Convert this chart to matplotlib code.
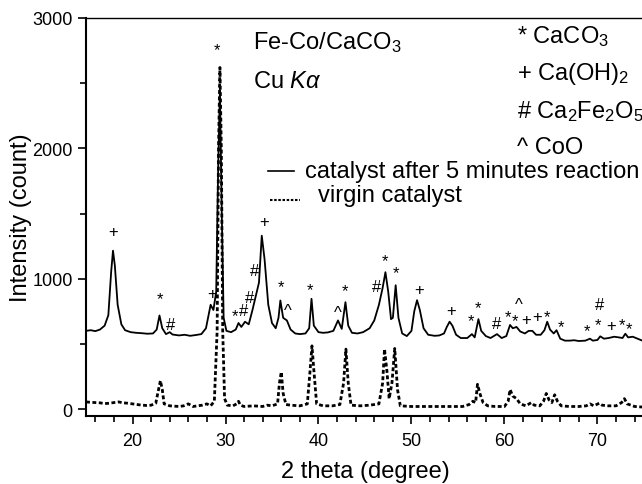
import numpy as np
import matplotlib
matplotlib.use('Agg')
import matplotlib.pyplot as plt
from matplotlib.ticker import MultipleLocator

plt.rcParams['font.family'] = ['Liberation Sans', 'DejaVu Sans']
plt.rcParams['mathtext.fontset'] = 'custom'
plt.rcParams['mathtext.rm'] = 'Liberation Sans'
plt.rcParams['mathtext.it'] = 'Liberation Sans:italic'

# catalyst after 5 minutes reaction (2 theta, counts)
tt_cat = [15.0, 15.5, 16.0, 16.5, 17.0, 17.4, 17.7, 17.9, 18.1, 18.4, 18.8, 19.2, 19.8, 20.4,
          21.0, 21.6, 22.2, 22.6, 22.9, 23.2, 23.6, 24.0, 24.3, 25.0, 25.6, 26.2, 26.8, 27.4,
          27.9, 28.4, 28.7, 29.0, 29.2, 29.4, 29.6, 29.8, 30.1, 30.6, 31.1, 31.4, 31.7, 32.1,
          32.5, 32.9, 33.2, 33.6, 33.9, 34.2, 34.6, 35.0, 35.4, 35.7, 35.9, 36.2, 36.6, 37.0,
          37.5, 38.0, 38.6, 39.0, 39.25, 39.5, 40.0, 40.5, 41.0, 41.6, 42.1, 42.5, 42.9, 43.2,
          43.6, 44.2, 44.8, 45.5, 46.0, 46.5, 46.9, 47.2, 47.5, 47.8, 48.0, 48.3, 48.6, 49.0,
          49.5, 50.0, 50.3, 50.6, 50.9, 51.3, 51.8, 52.5, 53.0, 53.5, 53.8, 54.1, 54.4, 54.8,
          55.3, 56.0, 56.5, 56.8, 57.2, 57.5, 58.0, 58.5, 59.2, 59.7, 60.2, 60.6, 60.9, 61.3,
          61.7, 62.2, 62.6, 63.0, 63.4, 63.9, 64.3, 64.6, 64.9, 65.3, 65.6, 66.0, 66.5, 67.0,
          67.5, 68.0, 68.7, 69.2, 69.5, 70.0, 70.3, 70.7, 71.2, 71.8, 72.3, 72.7, 73.0, 73.3,
          73.8, 74.3, 75.0]
i_cat = [600, 605, 598, 610, 640, 720, 1050, 1215, 1100, 800, 650, 605, 590, 585,
         582, 578, 580, 610, 718, 620, 575, 590, 572, 565, 570, 562, 568, 575,
         620, 800, 760, 900, 1800, 2450, 1500, 700, 600, 590, 610, 660, 630, 670,
         650, 760, 850, 970, 1330, 1150, 800, 660, 620, 700, 833, 700, 680, 610,
         580, 575, 580, 620, 846, 640, 590, 585, 588, 600, 680, 615, 820, 640,
         585, 580, 590, 620, 680, 800, 930, 1050, 900, 690, 700, 950, 700, 580,
         560, 600, 750, 835, 760, 620, 570, 562, 565, 580, 630, 670, 640, 570,
         545, 545, 575, 550, 690, 600, 560, 545, 575, 545, 560, 645, 620, 630,
         595, 580, 600, 600, 570, 570, 605, 670, 610, 580, 605, 540, 525, 525,
         528, 522, 525, 540, 525, 530, 558, 540, 545, 555, 550, 545, 578, 550,
         555, 540, 520]

# virgin catalyst
tt_vir = [15.0, 15.5, 16.0, 16.5, 17.0, 17.5, 18.0, 18.5, 19.0, 19.5, 20.0, 20.5, 21.0, 21.5,
          22.0, 22.5, 22.8, 23.0, 23.2, 23.4, 24.0, 25.0, 25.5, 26.0, 26.5, 27.0, 27.5, 28.0,
          28.4, 28.8, 29.1, 29.25, 29.4, 29.55, 29.7, 29.9, 30.2, 30.8, 31.2, 31.4, 31.6, 32.0,
          33.0, 34.0, 34.5, 35.0, 35.6, 35.8, 36.0, 36.2, 36.5, 37.0, 38.0, 38.8, 39.1, 39.3,
          39.5, 39.8, 40.5, 41.5, 42.3, 42.7, 42.95, 43.2, 43.5, 44.5, 45.5, 46.5, 46.9, 47.1,
          47.35, 47.6, 47.9, 48.2, 48.5, 48.8, 50.0, 52.0, 54.0, 55.5, 56.2, 56.6, 56.9, 57.1,
          57.4, 57.7, 58.2, 59.0, 60.0, 60.4, 60.6, 60.9, 61.3, 61.7, 62.3, 62.9, 63.2, 63.8,
          64.2, 64.5, 64.8, 65.1, 65.4, 65.7, 66.1, 67.0, 68.0, 68.8, 69.2, 69.6, 70.2, 70.5,
          71.2, 72.0, 72.6, 72.9, 73.2, 74.0, 75.0]
i_vir = [55, 52, 50, 48, 42, 45, 50, 55, 48, 45, 40, 35, 30, 28,
         30, 45, 150, 218, 150, 40, 25, 20, 25, 40, 20, 25, 30, 40,
         25, 60, 600, 2000, 2620, 2000, 600, 80, 30, 25, 40, 60, 30, 20,
         25, 20, 30, 25, 40, 200, 285, 120, 35, 30, 25, 40, 300, 485,
         300, 40, 25, 25, 35, 200, 460, 200, 30, 25, 30, 40, 200, 460,
         300, 80, 200, 465, 150, 25, 20, 20, 20, 20, 35, 60, 50, 190,
         110, 50, 25, 20, 20, 60, 150, 100, 80, 40, 25, 50, 30, 25,
         60, 120, 70, 50, 110, 60, 25, 20, 20, 25, 40, 25, 45, 30,
         25, 25, 50, 80, 40, 20, 15]

# phase markers above the catalyst pattern
mark_sym = ['+', '*', '#', '+', '*', '*', '#', '#', '#', '+', '*', '^', '*', '^', '*',
            '#', '*', '*', '+', '+', '*', '*', '#', '*', '*', '^', '+', '+', '*', '*',
            '*', '#', '*', '+', '*', '*']
mark_x = [17.9, 22.9, 24.1, 28.6, 29.1, 31.0, 31.9, 32.6, 33.1, 34.1, 36.0, 36.7, 39.1, 42.1, 42.9,
          46.2, 47.2, 48.3, 50.8, 54.3, 56.4, 57.1, 59.2, 60.4, 61.1, 61.5, 62.35, 63.5, 64.6, 66.1,
          68.9, 70.2, 70.1, 71.5, 72.6, 73.4]
mark_y = [1370, 890, 660, 900, 2800, 755, 770, 870, 1075, 1450, 980, 795, 955, 780, 950,
          950, 1180, 1090, 930, 770, 720, 815, 670, 745, 720, 840, 700, 720, 745, 675,
          640, 810, 685, 655, 685, 655]

fig = plt.figure(figsize=(6.42, 4.85), dpi=100)
ax = fig.add_axes([0.134, 0.141, 0.869, 0.82])

ax.plot(tt_cat, i_cat, color='black', lw=1.3)
ax.plot(tt_vir, i_vir, color='black', lw=2.0, linestyle=(0, (1.4, 0.9)))

# glyph centre height (fraction of font size) for each symbol
ctr = {'*': 0.58, '+': 0.35, '#': 0.36, '^': 0.55}
for s, x, y in zip(mark_sym, mark_x, mark_y):
    ax.annotate(s, (x, y), xytext=(0, -ctr[s] * 12), textcoords='offset points',
                ha='center', va='baseline', fontsize=12)

ax.set_xlim(15, 75)
ax.set_ylim(-50, 3000)
ax.xaxis.set_major_locator(MultipleLocator(10))
ax.xaxis.set_minor_locator(MultipleLocator(2))
ax.yaxis.set_major_locator(MultipleLocator(1000))
ax.yaxis.set_minor_locator(MultipleLocator(500))
ax.tick_params(which='major', length=6, width=1.2, labelsize=13, direction='out')
ax.tick_params(axis='x', which='major', pad=6)
ax.tick_params(which='minor', length=4, width=1.2, direction='out')
ax.spines['right'].set_visible(False)
ax.spines['left'].set_linewidth(1.5)
ax.spines['bottom'].set_linewidth(1.5)
ax.spines['top'].set_linewidth(1.0)
ax.set_xlabel('2 theta (degree)', fontsize=17, labelpad=8)
ax.set_ylabel('Intensity (count)', fontsize=17, labelpad=0)

# legend drawn by hand
ax.plot([0.326, 0.373], [0.615, 0.615], transform=ax.transAxes, color='black', lw=1.2)
ax.text(0.392, 0.615, 'catalyst after 5 minutes reaction', transform=ax.transAxes,
        fontsize=17, va='center')
ax.plot([0.330, 0.384], [0.542, 0.542], transform=ax.transAxes, color='black', lw=1.5,
        linestyle=(0, (1.2, 0.8)))
ax.text(0.415, 0.555, 'virgin catalyst', transform=ax.transAxes, fontsize=17, va='center')

ax.text(0.299, 0.94, 'Fe-Co/CaCO$_3$', transform=ax.transAxes, fontsize=17, va='center')
ax.text(0.299, 0.842, r'Cu $K\alpha$', transform=ax.transAxes, fontsize=17, va='center')

phases = ['* CaCO$_3$', '+ Ca(OH)$_2$', '# Ca$_2$Fe$_2$O$_5$', '^ CoO']
for lab, yy in zip(phases, [0.955, 0.862, 0.766, 0.676]):
    ax.text(0.772, yy, lab, transform=ax.transAxes, fontsize=17, va='center')

fig.savefig('out.png', dpi=100)
